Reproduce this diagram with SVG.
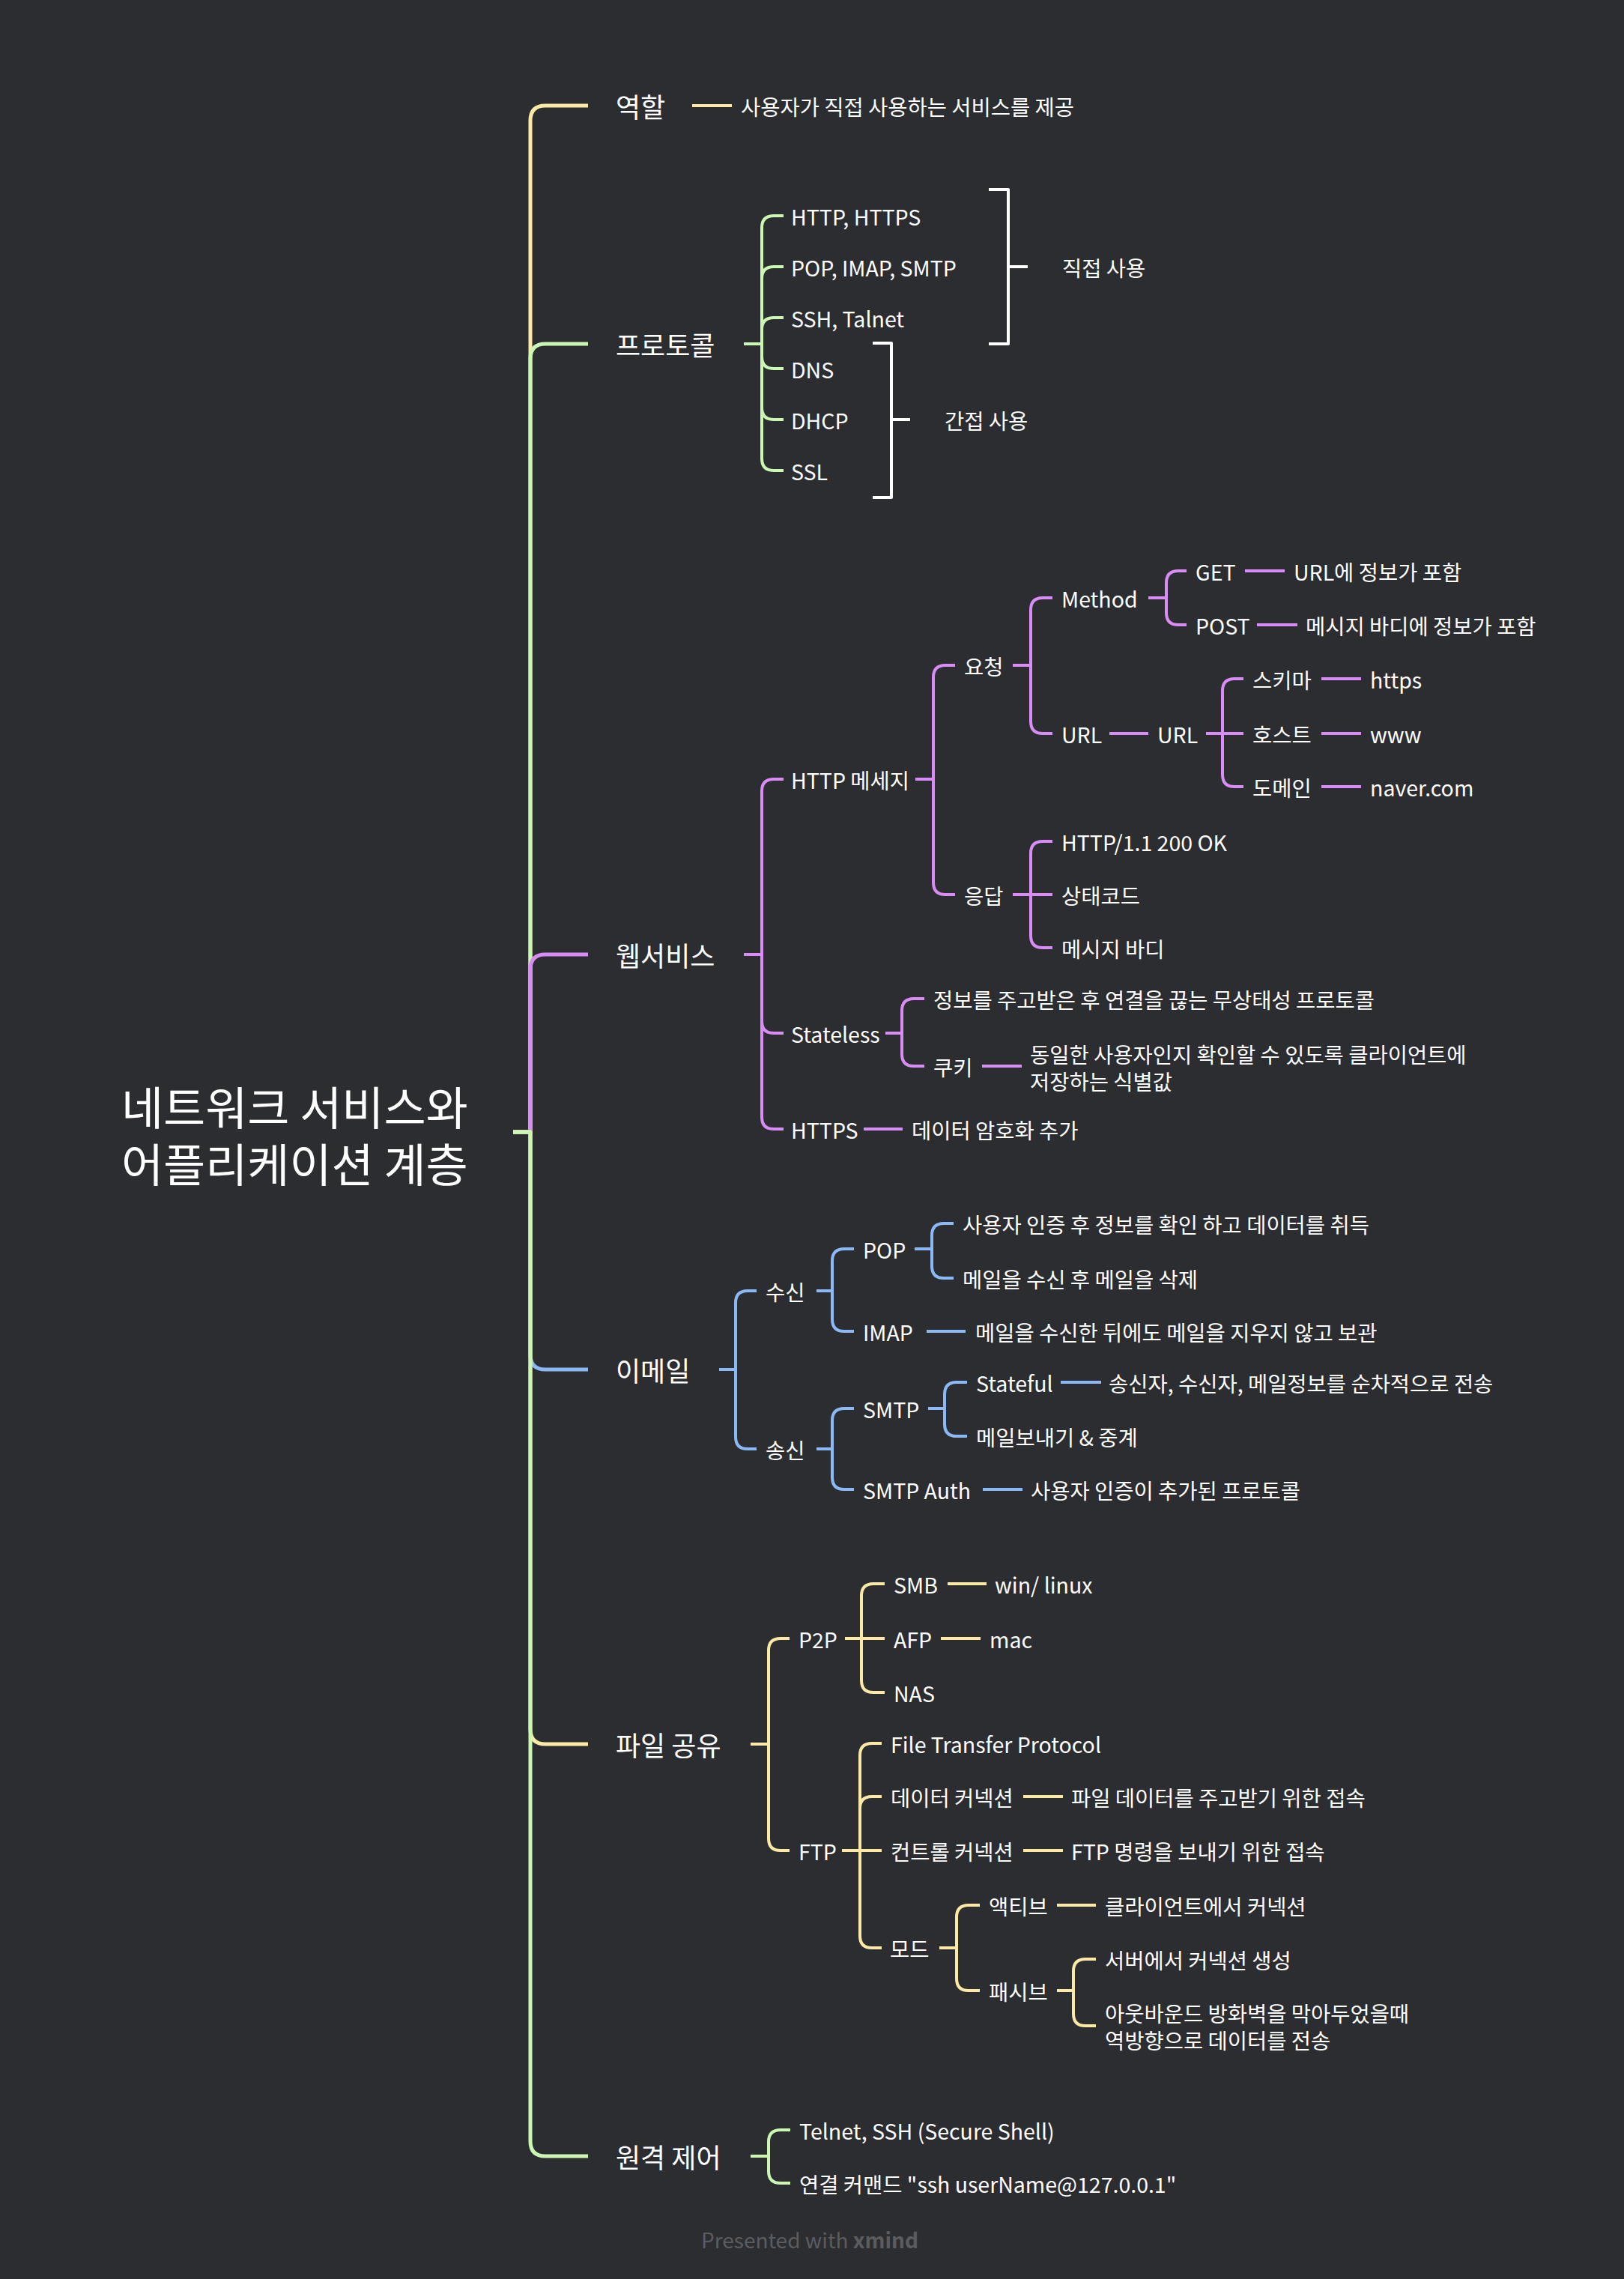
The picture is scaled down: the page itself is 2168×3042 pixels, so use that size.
<svg xmlns="http://www.w3.org/2000/svg" width="2168" height="3042" viewBox="0 0 2168 3042">
<style>
text{font-family:"Noto Sans CJK KR","Noto Sans",sans-serif;fill:#ffffff;dominant-baseline:central}
.t{font-size:28.5px}
.l1{font-size:36px}
.title{font-size:61px}
.c path{fill:none;stroke-width:4;stroke-linecap:butt;stroke-linejoin:round}
.c .m{stroke-width:5}
.y{stroke:#fce9a6}
.g{stroke:#cbf7b3}
.p{stroke:#d98cf6}
.b{stroke:#8bb9f6}
.w{stroke:#ffffff}
.foot{font-size:28px;fill:#5b5c60;dominant-baseline:auto}
</style>
<rect width="2168" height="3042" fill="#2c2d31"/>
<g id="connectors" class="c">
  <path class="m y" d="M685,1511 H708 V161 Q708,141 728,141 H785"/>
  <path class="m g" d="M685,1511 H708 V479 Q708,459 728,459 H785"/>
  <path class="m p" d="M685,1511 H708 V1294 Q708,1274 728,1274 H785"/>
  <path class="m b" d="M685,1511 H708 V1808 Q708,1828 728,1828 H785"/>
  <path class="m y" d="M685,1511 H708 V2308 Q708,2328 728,2328 H785"/>
  <path class="m g" d="M685,1511 H708 V2858 Q708,2878 728,2878 H785"/>
  <path class="y" d="M924,141 H977"/>
  <path class="g" d="M993,459 H1017"/>
  <path class="g" d="M1017,459 V304 Q1017,288 1033,288 H1046"/>
  <path class="g" d="M1017,459 V372 Q1017,356 1033,356 H1046"/>
  <path class="g" d="M1017,459 V440 Q1017,424 1033,424 H1046"/>
  <path class="g" d="M1017,459 V476 Q1017,492 1033,492 H1046"/>
  <path class="g" d="M1017,459 V544 Q1017,560 1033,560 H1046"/>
  <path class="g" d="M1017,459 V612 Q1017,628 1033,628 H1046"/>
  <path class="w" d="M1320,253 H1346 V459 H1320 M1346,356 H1372"/>
  <path class="w" d="M1165,458 H1190 V664 H1165 M1190,560 H1215"/>
  <path class="p" d="M993,1274 H1017"/>
  <path class="p" d="M1017,1274 V1056 Q1017,1040 1033,1040 H1046"/>
  <path class="p" d="M1017,1274 V1363 Q1017,1379 1033,1379 H1046"/>
  <path class="p" d="M1017,1274 V1491 Q1017,1507 1033,1507 H1046"/>
  <path class="p" d="M1222,1040 H1246"/>
  <path class="p" d="M1246,1040 V904 Q1246,888 1262,888 H1275"/>
  <path class="p" d="M1246,1040 V1178 Q1246,1194 1262,1194 H1275"/>
  <path class="p" d="M1352,888 H1376"/>
  <path class="p" d="M1376,888 V814 Q1376,798 1392,798 H1405"/>
  <path class="p" d="M1376,888 V963 Q1376,979 1392,979 H1405"/>
  <path class="p" d="M1533,798 H1557"/>
  <path class="p" d="M1557,798 V778 Q1557,762 1573,762 H1584"/>
  <path class="p" d="M1557,798 V818 Q1557,834 1573,834 H1584"/>
  <path class="p" d="M1662,762 H1715"/>
  <path class="p" d="M1678,834 H1732"/>
  <path class="p" d="M1481,979 H1533"/>
  <path class="p" d="M1610,979 H1632"/>
  <path class="p" d="M1632,979 V922 Q1632,906 1648,906 H1660"/>
  <path class="p" d="M1632,979 H1660"/>
  <path class="p" d="M1632,979 V1034 Q1632,1050 1648,1050 H1660"/>
  <path class="p" d="M1764,906 H1817"/>
  <path class="p" d="M1764,979 H1817"/>
  <path class="p" d="M1764,1050 H1817"/>
  <path class="p" d="M1352,1194 H1376"/>
  <path class="p" d="M1376,1194 V1139 Q1376,1123 1392,1123 H1405"/>
  <path class="p" d="M1376,1194 H1405"/>
  <path class="p" d="M1376,1194 V1249 Q1376,1265 1392,1265 H1405"/>
  <path class="p" d="M1182,1379 H1204"/>
  <path class="p" d="M1204,1379 V1349 Q1204,1333 1220,1333 H1234"/>
  <path class="p" d="M1204,1379 V1407 Q1204,1423 1220,1423 H1234"/>
  <path class="p" d="M1311,1423 H1364"/>
  <path class="p" d="M1153,1507 H1205"/>
  <path class="b" d="M960,1828 H982"/>
  <path class="b" d="M982,1828 V1739 Q982,1723 998,1723 H1010"/>
  <path class="b" d="M982,1828 V1918 Q982,1934 998,1934 H1010"/>
  <path class="b" d="M1090,1723 H1111"/>
  <path class="b" d="M1111,1723 V1683 Q1111,1667 1127,1667 H1140"/>
  <path class="b" d="M1111,1723 V1761 Q1111,1777 1127,1777 H1140"/>
  <path class="b" d="M1221,1667 H1244"/>
  <path class="b" d="M1244,1667 V1649 Q1244,1633 1260,1633 H1273"/>
  <path class="b" d="M1244,1667 V1690 Q1244,1706 1260,1706 H1273"/>
  <path class="b" d="M1237,1777 H1289"/>
  <path class="b" d="M1090,1934 H1111"/>
  <path class="b" d="M1111,1934 V1896 Q1111,1880 1127,1880 H1140"/>
  <path class="b" d="M1111,1934 V1972 Q1111,1988 1127,1988 H1140"/>
  <path class="b" d="M1239,1880 H1261"/>
  <path class="b" d="M1261,1880 V1861 Q1261,1845 1277,1845 H1291"/>
  <path class="b" d="M1261,1880 V1901 Q1261,1917 1277,1917 H1291"/>
  <path class="b" d="M1416,1845 H1470"/>
  <path class="b" d="M1312,1988 H1365"/>
  <path class="y" d="M1002,2328 H1026"/>
  <path class="y" d="M1026,2328 V2203 Q1026,2187 1042,2187 H1054"/>
  <path class="y" d="M1026,2328 V2454 Q1026,2470 1042,2470 H1054"/>
  <path class="y" d="M1128,2187 H1150"/>
  <path class="y" d="M1150,2187 V2130 Q1150,2114 1166,2114 H1181"/>
  <path class="y" d="M1150,2187 H1181"/>
  <path class="y" d="M1150,2187 V2243 Q1150,2259 1166,2259 H1181"/>
  <path class="y" d="M1265,2114 H1317"/>
  <path class="y" d="M1256,2187 H1309"/>
  <path class="y" d="M1124,2470 H1148"/>
  <path class="y" d="M1148,2470 V2343 Q1148,2327 1164,2327 H1177"/>
  <path class="y" d="M1148,2470 V2414 Q1148,2398 1164,2398 H1177"/>
  <path class="y" d="M1148,2470 H1177"/>
  <path class="y" d="M1148,2470 V2584 Q1148,2600 1164,2600 H1177"/>
  <path class="y" d="M1366,2398 H1419"/>
  <path class="y" d="M1366,2470 H1419"/>
  <path class="y" d="M1254,2600 H1277"/>
  <path class="y" d="M1277,2600 V2559 Q1277,2543 1293,2543 H1308"/>
  <path class="y" d="M1277,2600 V2641 Q1277,2657 1293,2657 H1308"/>
  <path class="y" d="M1411,2543 H1463"/>
  <path class="y" d="M1411,2657 H1433"/>
  <path class="y" d="M1433,2657 V2631 Q1433,2615 1449,2615 H1463"/>
  <path class="y" d="M1433,2657 V2688 Q1433,2704 1449,2704 H1463"/>
  <path class="g" d="M1002,2878 H1026"/>
  <path class="g" d="M1026,2878 V2859 Q1026,2843 1042,2843 H1055"/>
  <path class="g" d="M1026,2878 V2898 Q1026,2914 1042,2914 H1055"/>
</g>
<g id="root"><text class="title" x="162" y="1475">네트워크 서비스와</text><text class="title" x="162" y="1551">어플리케이션 계층</text></g>
<g id="n-role"><text class="l1" x="822" y="141">역할</text></g>
<g id="n-role-1"><text class="t" x="989" y="141">사용자가 직접 사용하는 서비스를 제공</text></g>
<g id="n-proto"><text class="l1" x="822" y="459">프로토콜</text></g>
<g id="n-proto-1"><text class="t" x="1056" y="288">HTTP, HTTPS</text></g>
<g id="n-proto-2"><text class="t" x="1056" y="356">POP, IMAP, SMTP</text></g>
<g id="n-proto-3"><text class="t" x="1056" y="424">SSH, Talnet</text></g>
<g id="n-proto-4"><text class="t" x="1056" y="492">DNS</text></g>
<g id="n-proto-5"><text class="t" x="1056" y="560">DHCP</text></g>
<g id="n-proto-6"><text class="t" x="1056" y="628">SSL</text></g>
<g id="s-direct"><text class="t" x="1418" y="356">직접 사용</text></g>
<g id="s-indirect"><text class="t" x="1261" y="560">간접 사용</text></g>
<g id="n-web"><text class="l1" x="822" y="1274">웹서비스</text></g>
<g id="n-httpmsg"><text class="t" x="1056" y="1040">HTTP 메세지</text></g>
<g id="n-req"><text class="t" x="1287" y="888">요청</text></g>
<g id="n-method"><text class="t" x="1417" y="798">Method</text></g>
<g id="n-get"><text class="t" x="1596" y="762">GET</text></g>
<g id="n-get-1"><text class="t" x="1727" y="762">URL에 정보가 포함</text></g>
<g id="n-post"><text class="t" x="1596" y="834">POST</text></g>
<g id="n-post-1"><text class="t" x="1743" y="834">메시지 바디에 정보가 포함</text></g>
<g id="n-url"><text class="t" x="1417" y="979">URL</text></g>
<g id="n-url2"><text class="t" x="1545" y="979">URL</text></g>
<g id="n-scheme"><text class="t" x="1672" y="906">스키마</text></g>
<g id="n-host"><text class="t" x="1672" y="979">호스트</text></g>
<g id="n-domain"><text class="t" x="1672" y="1050">도메인</text></g>
<g id="n-https-v"><text class="t" x="1829" y="906">https</text></g>
<g id="n-www"><text class="t" x="1829" y="979">www</text></g>
<g id="n-naver"><text class="t" x="1829" y="1050">naver.com</text></g>
<g id="n-res"><text class="t" x="1287" y="1194">응답</text></g>
<g id="n-res-1"><text class="t" x="1417" y="1123">HTTP/1.1 200 OK</text></g>
<g id="n-res-2"><text class="t" x="1417" y="1194">상태코드</text></g>
<g id="n-res-3"><text class="t" x="1417" y="1265">메시지 바디</text></g>
<g id="n-stateless"><text class="t" x="1056" y="1379">Stateless</text></g>
<g id="n-stateless-1"><text class="t" x="1246" y="1333">정보를 주고받은 후 연결을 끊는 무상태성 프로토콜</text></g>
<g id="n-cookie"><text class="t" x="1246" y="1423">쿠키</text></g>
<g id="n-cookie-1"><text class="t" x="1375" y="1406">동일한 사용자인지 확인할 수 있도록 클라이언트에</text><text class="t" x="1375" y="1442">저장하는 식별값</text></g>
<g id="n-https"><text class="t" x="1056" y="1507">HTTPS</text></g>
<g id="n-https-1"><text class="t" x="1217" y="1507">데이터 암호화 추가</text></g>
<g id="n-email"><text class="l1" x="822" y="1828">이메일</text></g>
<g id="n-recv"><text class="t" x="1022" y="1723">수신</text></g>
<g id="n-pop"><text class="t" x="1152" y="1667">POP</text></g>
<g id="n-pop-1"><text class="t" x="1285" y="1633">사용자 인증 후 정보를 확인 하고 데이터를 취득</text></g>
<g id="n-pop-2"><text class="t" x="1285" y="1706">메일을 수신 후 메일을 삭제</text></g>
<g id="n-imap"><text class="t" x="1152" y="1777">IMAP</text></g>
<g id="n-imap-1"><text class="t" x="1302" y="1777">메일을 수신한 뒤에도 메일을 지우지 않고 보관</text></g>
<g id="n-send"><text class="t" x="1022" y="1934">송신</text></g>
<g id="n-smtp"><text class="t" x="1152" y="1880">SMTP</text></g>
<g id="n-stateful"><text class="t" x="1303" y="1845">Stateful</text></g>
<g id="n-stateful-1"><text class="t" x="1480" y="1845">송신자, 수신자, 메일정보를 순차적으로 전송</text></g>
<g id="n-relay"><text class="t" x="1303" y="1917">메일보내기 &amp; 중계</text></g>
<g id="n-smtpauth"><text class="t" x="1152" y="1988">SMTP Auth</text></g>
<g id="n-smtpauth-1"><text class="t" x="1376" y="1988">사용자 인증이 추가된 프로토콜</text></g>
<g id="n-file"><text class="l1" x="822" y="2328">파일 공유</text></g>
<g id="n-p2p"><text class="t" x="1066" y="2187">P2P</text></g>
<g id="n-smb"><text class="t" x="1193" y="2114">SMB</text></g>
<g id="n-smb-1"><text class="t" x="1328" y="2114">win/ linux</text></g>
<g id="n-afp"><text class="t" x="1193" y="2187">AFP</text></g>
<g id="n-afp-1"><text class="t" x="1321" y="2187">mac</text></g>
<g id="n-nas"><text class="t" x="1193" y="2259">NAS</text></g>
<g id="n-ftp"><text class="t" x="1066" y="2470">FTP</text></g>
<g id="n-ftp-1"><text class="t" x="1189" y="2327">File Transfer Protocol</text></g>
<g id="n-ftp-2"><text class="t" x="1189" y="2398">데이터 커넥션</text></g>
<g id="n-ftp-2a"><text class="t" x="1430" y="2398">파일 데이터를 주고받기 위한 접속</text></g>
<g id="n-ftp-3"><text class="t" x="1189" y="2470">컨트롤 커넥션</text></g>
<g id="n-ftp-3a"><text class="t" x="1430" y="2470">FTP 명령을 보내기 위한 접속</text></g>
<g id="n-mode"><text class="t" x="1188" y="2600">모드</text></g>
<g id="n-active"><text class="t" x="1320" y="2543">액티브</text></g>
<g id="n-active-1"><text class="t" x="1475" y="2543">클라이언트에서 커넥션</text></g>
<g id="n-passive"><text class="t" x="1320" y="2657">패시브</text></g>
<g id="n-passive-1"><text class="t" x="1475" y="2615">서버에서 커넥션 생성</text></g>
<g id="n-passive-2"><text class="t" x="1475" y="2686">아웃바운드 방화벽을 막아두었을때</text><text class="t" x="1475" y="2722">역방향으로 데이터를 전송</text></g>
<g id="n-remote"><text class="l1" x="822" y="2878">원격 제어</text></g>
<g id="n-remote-1"><text class="t" x="1067" y="2843">Telnet, SSH (Secure Shell)</text></g>
<g id="n-remote-2"><text class="t" x="1067" y="2914">연결 커맨드 "ssh userName@127.0.0.1"</text></g>
<text class="foot" x="936" y="3001">Presented with <tspan font-weight="bold">xmind</tspan></text>
</svg>
